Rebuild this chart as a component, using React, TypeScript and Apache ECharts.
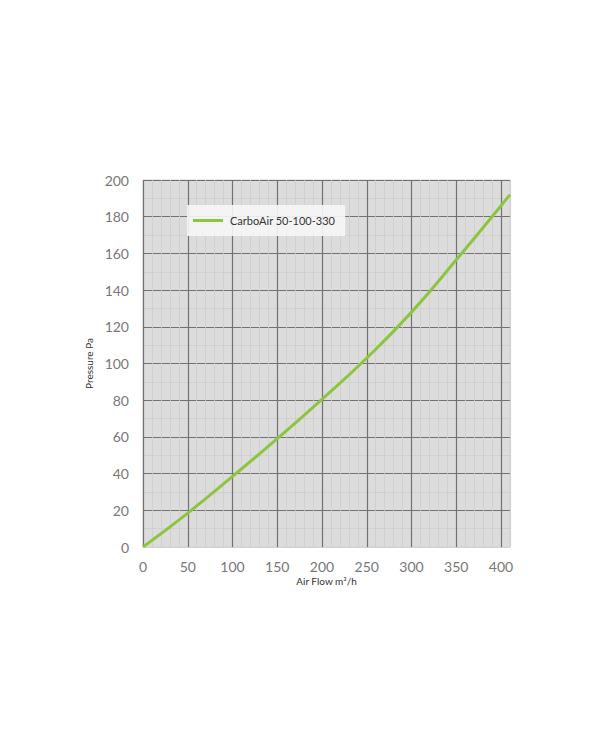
import React, { useEffect, useRef } from "react";
import * as echarts from "echarts";

const airFlow = [0, 50, 100, 150, 200, 250, 300, 350, 400, 410];
const pressure = [0, 18.5, 38.5, 59, 80.5, 103, 128, 156.5, 186, 192];
const seriesName = "CarboAir 50-100-330";
const xName = "Air Flow m³/h";
const yName = "Pressure Pa";

const MAJOR = "#727272";
const EDGE = "#d2d2d2";
const MINOR = "#cdcdcd";

export default function App() {
  const ref = useRef<HTMLDivElement>(null);
  useEffect(() => {
    if (!ref.current) return;
    const chart = echarts.init(ref.current, undefined, { renderer: "svg" });
    const data = airFlow.map((x, i) => [x, pressure[i]]);
    const xMajorColors = [MAJOR, MAJOR, MAJOR, MAJOR, MAJOR, MAJOR, MAJOR, MAJOR, MAJOR, EDGE];
    const yMajorColors = [EDGE, MAJOR, MAJOR, MAJOR, MAJOR, MAJOR, MAJOR, MAJOR, MAJOR, MAJOR, MAJOR];
    chart.setOption({
      animation: false,
      backgroundColor: "#ffffff",
      textStyle: { fontFamily: "Lato" },
      grid: {
        left: 143,
        top: 180,
        right: 90,
        bottom: 198,
        show: true,
        backgroundColor: "#dcdcdc",
        borderColor: EDGE,
        borderWidth: 1,
      },
      legend: {
        left: 187,
        top: 205,
        padding: [10, 10, 10, 6],
        backgroundColor: "rgba(246,246,246,0.9)",
        icon: "rect",
        itemWidth: 30,
        itemHeight: 3,
        itemGap: 8,
        textStyle: { fontSize: 11, color: "#333", fontFamily: "Lato", padding: [0, 8, 0, 2] },
        data: [seriesName],
      },
      xAxis: [
        {
          type: "value",
          min: 0,
          max: 410,
          interval: 10,
          position: "bottom",
          axisLine: { show: false },
          axisTick: { show: false },
          axisLabel: { show: false },
          splitLine: { show: true, lineStyle: { color: MINOR, width: 0.8 } },
        },
        {
          type: "value",
          min: 0,
          max: 410,
          interval: 50,
          position: "bottom",
          name: xName,
          nameLocation: "middle",
          nameGap: 29,
          nameTextStyle: { fontSize: 10, color: "#333", fontFamily: "Lato" },
          axisLine: { show: false },
          axisTick: { show: false },
          axisLabel: { show: true, showMaxLabel: false, fontSize: 14, color: "#777", margin: 12 },
          splitLine: { show: true, lineStyle: { color: xMajorColors, width: 1.2 } },
        },
      ],
      yAxis: [
        {
          type: "value",
          min: 0,
          max: 200,
          interval: 10,
          position: "left",
          axisLine: { show: false },
          axisTick: { show: false },
          axisLabel: { show: false },
          splitLine: { show: true, lineStyle: { color: MINOR, width: 0.8 } },
        },
        {
          type: "value",
          min: 0,
          max: 200,
          interval: 20,
          position: "left",
          name: yName,
          nameLocation: "middle",
          nameGap: 48,
          nameTextStyle: { fontSize: 10, color: "#333", fontFamily: "Lato" },
          axisLine: { show: false },
          axisTick: { show: false },
          axisLabel: { show: true, fontSize: 14, color: "#777", margin: 14 },
          splitLine: { show: true, lineStyle: { color: yMajorColors, width: 1.2 } },
        },
      ],
      series: [
        {
          name: seriesName,
          type: "line",
          xAxisIndex: 1,
          yAxisIndex: 1,
          smooth: true,
          symbol: "none",
          data,
          lineStyle: { color: "#8cc63f", width: 3 },
          itemStyle: { color: "#8cc63f" },
        },
      ],
    });
    return () => chart.dispose();
  }, []);
  return (
    <div
      ref={ref}
      style={{ position: "fixed", left: 0, top: 0, width: 600, height: 745, background: "#fff" }}
    />
  );
}
